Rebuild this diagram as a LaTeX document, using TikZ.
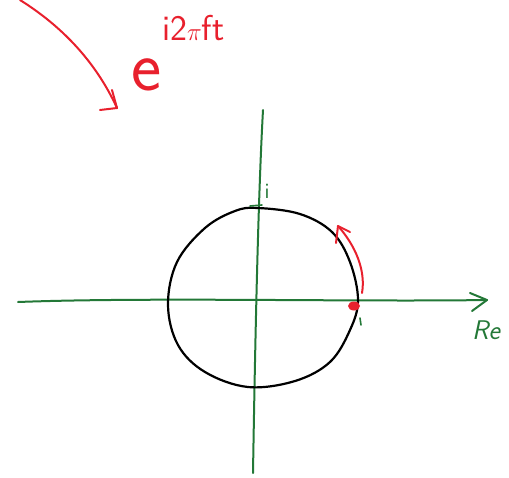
\documentclass[tikz,border=0pt]{standalone}
\usetikzlibrary{arrows.meta}
\definecolor{pengreen}{RGB}{35,120,55}
\definecolor{penred}{RGB}{232,32,45}
\tikzset{
  greenpen/.style={draw=pengreen,line width=2pt,line cap=round,line join=round},
  redpen/.style={draw=penred,line width=2pt,line cap=round,line join=round},
  blackpen/.style={draw=black,line width=2.2pt,line cap=round,line join=round},
  greentext/.style={text=pengreen},
  redtext/.style={text=penred,inner sep=0pt},
}
\begin{document}
\begin{tikzpicture}[x=1pt,y=-1pt]
\useasboundingbox (0,0) rectangle (509,477);
% axes
\coordinate (xl) at (18,302);
\coordinate (xr) at (487,300);
\coordinate (yb) at (253,473);
\coordinate (yt) at (263,110);
\draw[greenpen] (xl) .. controls (150,297) and (350,302) .. (xr);
\draw[greenpen] (470,293) -- (487,300) -- (472,311);
\draw[greenpen] (yb) .. controls (255,350) and (258,200) .. (yt);
% unit circle (hand-drawn)
\draw[blackpen] plot[smooth cycle,tension=0.6] coordinates {
  (258,208) (300,214) (332,232) (350,262) (358,300) (350,330) (330,362)
  (295,381) (248,387) (205,372) (178,345) (168,305) (177,262) (205,228) (235,211)};
% tick labels
\draw[greenpen,line width=1.6pt] (250,206) -- (262,205);
\node[greentext,font=\sffamily\fontsize{22}{22}\selectfont] (lbli) at (267,191) {i};
\draw[greenpen,line width=1.6pt] (360,318) -- (361,325);
\node[greentext,font=\itshape\sffamily\fontsize{27}{27}\selectfont] (lblre) at (486,330) {Re};
% red point and rotation arrow
\fill[penred] (354,306) ellipse (6 and 4.5);
\coordinate (rs) at (362,293);
\coordinate (re) at (338,226);
\draw[redpen] (rs) .. controls (366,270) and (355,245) .. (re);
\draw[redpen] (336,243) -- (338,226) -- (350,232);
% formula e^{i2 pi f t} as one text
\node[redtext,font=\sffamily\fontsize{72}{72}\selectfont,anchor=base west] (formula) at (131,90)
  {e\kern1pt\raisebox{50pt}{\fontsize{36}{36}\selectfont i2$\pi$ft}};
% big arrow
\coordinate (as) at (20,0);
\coordinate (ae) at (117,108);
\draw[redpen] (as) .. controls (60,25) and (95,60) .. (ae);
\draw[redpen] (112,90) -- (117,108) -- (100,110);
\end{tikzpicture}
\end{document}
